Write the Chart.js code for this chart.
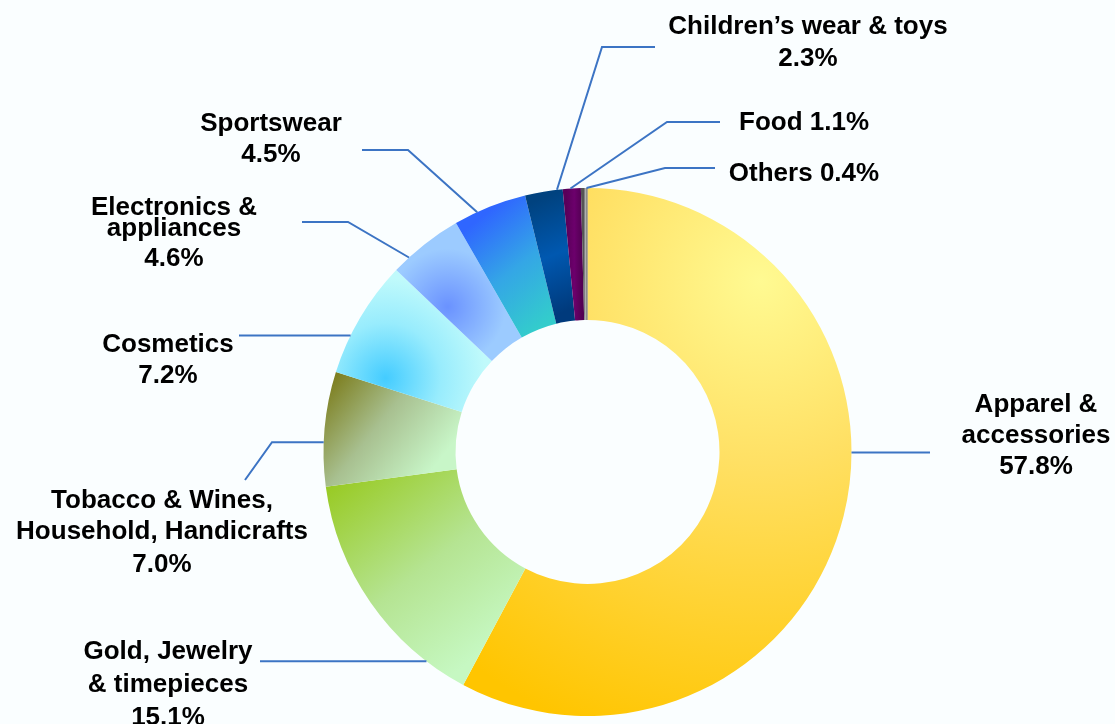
<!DOCTYPE html>
<html lang="en">
<head>
<meta charset="UTF-8">
<title>Sales share by category</title>
<script src="https://cdn.jsdelivr.net/npm/chart.js"></script>
<style>
  html, body { margin: 0; padding: 0; background: #fafeff; }
  #wrap { width: 1115px; height: 724px; }
</style>
</head>
<body>
<div id="wrap"><canvas id="chart" width="1115" height="724"></canvas></div>
<script>
const categories = ['Apparel & accessories', 'Gold, Jewelry & timepieces', 'Tobacco & Wines, Household, Handicrafts',
    'Cosmetics', 'Electronics & appliances', 'Sportswear', 'Children’s wear & toys', 'Food', 'Others'];
const shares = [57.8, 15.1, 7.0, 7.2, 4.6, 4.5, 2.3, 1.1, 0.4];

// how each name is broken over lines in its callout
const nameLines = [
    ['Apparel &', 'accessories'],
    ['Gold, Jewelry', '& timepieces'],
    ['Tobacco & Wines,', 'Household, Handicrafts'],
    ['Cosmetics'],
    ['Electronics &', 'appliances'],
    ['Sportswear'],
    ['Children’s wear & toys'],
    ['Food'],
    ['Others']
];

// callout placement: text centre x, line baselines, where the leader leaves the slice (0..1 along it),
// and the leader path after that point (null y = keep the previous y)
const callouts = [
    { x: 1036, y: [412, 443, 474], at: 0.433, path: [[930, null]] },
    { x: 168, y: [659, 692, 725], at: 0.175, path: [[260, null]] },
    { x: 162, y: [508, 539, 572], at: 0.385, path: [[272, null], [245, 480]] },
    { x: 168, y: [352, 383], at: 0.33, path: [[239, null]] },
    { x: 174, y: [215, 236, 266], at: 0.235, path: [[348, 222], [302, 222]] },
    { x: 271, y: [131, 162], at: 0.32, path: [[408, 150], [362, 150]] },
    { x: 808, y: [34, 66], at: 0.85, path: [[602, 47], [655, 47]] },
    { x: 804, y: [130], at: 0.43, path: [[667, 122], [720, 122]], inline: true },
    { x: 804, y: [181], at: 0.85, path: [[665, 168], [715, 168]], inline: true }
];

// gradient fills, coordinates relative to the centre in units of the outer radius
const fills = [
    { type: 'radial', p: [0.655, -0.65, 1.82], stops: [[0, '#fffa92'], [0.38, '#ffe064'], [1, '#ffc500']] },
    { type: 'linear', p: [-0.97, 0.11, -0.44, 0.79], stops: [[0, '#98ca22'], [0.55, '#b5e492'], [1, '#c6f8c2']] },
    { type: 'linear', p: [-0.97, -0.3, -0.56, 0.03], stops: [[0, '#7a7a18'], [0.5, '#a8c090'], [1, '#c8f6c8']] },
    { type: 'radial', p: [-0.765, -0.28, 0.38], stops: [[0, '#44ccff'], [0.55, '#98ecfd'], [1, '#c0fafb']] },
    { type: 'radial', p: [-0.53, -0.55, 0.22], stops: [[0, '#6a92ff'], [1, '#9ccbff']] },
    { type: 'linear', p: [-0.44, -0.86, -0.15, -0.5], stops: [[0, '#2f66ff'], [0.5, '#34a6e6'], [1, '#33cccc']] },
    { type: 'linear', p: [-0.2, -0.95, -0.04, -0.55], stops: [[0, '#00427f'], [0.5, '#0058b0'], [1, '#003a7c']] },
    { type: 'linear', p: [-0.08, -0.9, -0.02, -0.9], stops: [[0, '#5a005a'], [0.5, '#6c006c'], [1, '#520052']] },
    { type: 'linear', p: [-0.015, -0.9, 0, -0.9], stops: [[0, '#555555'], [0.5, '#b0b0b0'], [1, '#666666']] }
];

function paint(context) {
    const chart = context.chart;
    const area = chart.chartArea;
    if (!area) return '#cccccc';
    const cx = (area.left + area.right) / 2;
    const cy = (area.top + area.bottom) / 2;
    const r = Math.min(area.width, area.height) / 2;
    const f = fills[context.dataIndex];
    const p = f.p;
    let g;
    if (f.type === 'radial') {
        g = chart.ctx.createRadialGradient(cx + p[0] * r, cy + p[1] * r, 0, cx + p[0] * r, cy + p[1] * r, p[2] * r);
    } else {
        g = chart.ctx.createLinearGradient(cx + p[0] * r, cy + p[1] * r, cx + p[2] * r, cy + p[3] * r);
    }
    f.stops.forEach(s => g.addColorStop(s[0], s[1]));
    return g;
}

const backdrop = {
    id: 'backdrop',
    beforeDraw(chart) {
        const ctx = chart.ctx;
        ctx.save();
        ctx.fillStyle = '#fafeff';
        ctx.fillRect(0, 0, chart.width, chart.height);
        ctx.restore();
    }
};

const calloutPlugin = {
    id: 'callouts',
    afterDraw(chart) {
        const ctx = chart.ctx;
        const arcs = chart.getDatasetMeta(0).data;
        ctx.save();
        ctx.strokeStyle = '#3c74c4';
        ctx.lineWidth = 2;
        arcs.forEach((arc, i) => {
            const c = callouts[i];
            const a = arc.startAngle + c.at * (arc.endAngle - arc.startAngle);
            let px = arc.x + Math.cos(a) * arc.outerRadius;
            let py = arc.y + Math.sin(a) * arc.outerRadius;
            ctx.beginPath();
            ctx.moveTo(px, py);
            c.path.forEach(pt => {
                px = pt[0];
                if (pt[1] !== null) py = pt[1];
                ctx.lineTo(px, py);
            });
            ctx.stroke();
        });

        ctx.fillStyle = '#000000';
        ctx.font = 'bold 26px "Liberation Sans", Arial, sans-serif';
        ctx.textAlign = 'center';
        ctx.textBaseline = 'alphabetic';
        callouts.forEach((c, i) => {
            const pct = shares[i].toFixed(1) + '%';
            let lines = nameLines[i].slice();
            if (c.inline) lines[lines.length - 1] += ' ' + pct;
            else lines.push(pct);
            lines.forEach((t, k) => ctx.fillText(t, c.x, c.y[k]));
        });
        ctx.restore();
    }
};

new Chart(document.getElementById('chart'), {
    type: 'doughnut',
    data: {
        labels: categories,
        datasets: [{
            data: shares,
            backgroundColor: paint,
            borderWidth: 0,
            hoverOffset: 0
        }]
    },
    options: {
        responsive: false,
        animation: false,
        events: [],
        cutout: '50%',
        layout: { padding: { left: 323, top: 188, right: 263, bottom: 8 } },
        plugins: {
            legend: { display: false },
            tooltip: { enabled: false }
        }
    },
    plugins: [backdrop, calloutPlugin]
});
</script>
</body>
</html>
